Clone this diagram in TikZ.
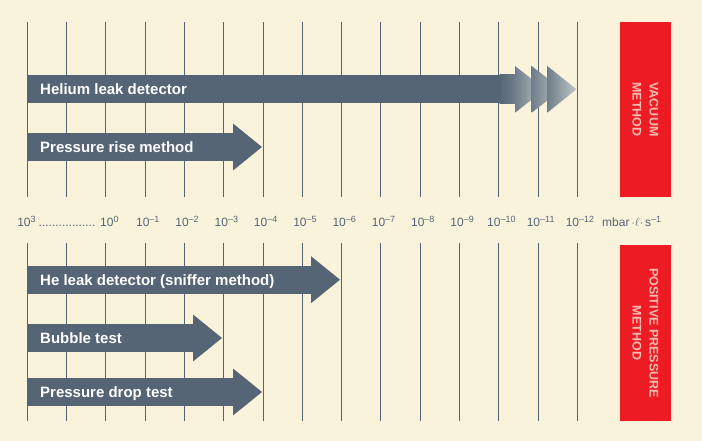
\documentclass[tikz,border=0pt]{standalone}
\usepackage{fontspec}
\setmainfont{Liberation Sans}
\usetikzlibrary{shadings}
\definecolor{bg}{RGB}{250,243,220}
\definecolor{slate}{RGB}{86,101,117}
\definecolor{slatelight}{RGB}{190,199,198}
\definecolor{slatemid}{RGB}{112,126,139}
\definecolor{redbox}{RGB}{237,28,36}
\definecolor{pinktext}{RGB}{251,188,178}
\tikzset{
  gridline/.style={draw=slate, line width=0.9pt},
  bartext/.style={text=white, font=\fontsize{15}{18}\selectfont\bfseries, anchor=base west, inner sep=0pt},
  axislabel/.style={text=slate, font=\fontsize{12}{14}\selectfont, anchor=base, inner sep=0pt},
  redpanel/.style={fill=redbox},
  paneltext/.style={text=pinktext, font=\fontsize{12.5}{17}\selectfont\bfseries, rotate=-90, align=center, inner sep=0pt},
  headshade/.style={left color=slatemid, right color=slatelight}
}
\newcommand{\expo}[1]{\raisebox{3.7pt}{\fontsize{9}{9}\selectfont #1}}
\newcommand{\plainarrow}[4]{% name, center y, tip x, text
  \fill[slate] (27,#2-14) rectangle (#3-29,#2+14);
  \fill[slate] (#3-29,#2-23.5) -- (#3,#2) -- (#3-29,#2+23.5) -- cycle;
  \node[bartext] (#1) at (40,#2+5.6) {#4};
}
\begin{document}
\begin{tikzpicture}[x=1pt,y=-1pt]
\useasboundingbox (0,0) rectangle (702,441);
\fill[bg] (0,0) rectangle (702,441);
% grid
\foreach \k in {0,...,14} {
  \draw[gridline] ({27.3+39.29*\k},22) -- ({27.3+39.29*\k},197);
  \draw[gridline] ({27.3+39.29*\k},243) -- ({27.3+39.29*\k},421);
}
% red panels
\fill[redpanel] (620,22) rectangle (671,197);
\fill[redpanel] (620,245) rectangle (671,421);
\node[paneltext] (vac) at (645.5,109.5) {VACUUM\\METHOD};
\node[paneltext] (pos) at (645.5,333) {POSITIVE PRESSURE\\METHOD};
% helium leak detector with fading heads
\fill[slate] (27,75) rectangle (500,103.5);
\shade[left color=slate, right color=slatemid] (499.5,75) rectangle (516,103.5);
\shade[headshade] (515,66) -- (545,89.3) -- (515,112.7) -- cycle;
\shade[headshade] (531.7,66) -- (561.7,89.3) -- (531.7,112.7) -- cycle;
\shade[headshade] (547.3,66) -- (576.5,89.3) -- (547.3,112.7) -- cycle;
\node[bartext] (hld) at (40,94.9) {Helium leak detector};
% other arrows
\plainarrow{prm}{147}{262}{Pressure rise method}
\plainarrow{sniff}{279.7}{340}{He leak detector (sniffer method)}
\plainarrow{bub}{338}{222}{Bubble test}
\plainarrow{pdt}{392}{262}{Pressure drop test}
% axis labels
\node[axislabel] (l3) at (26.5,226) {10\expo{3}};
\node[axislabel, anchor=base west] (dots) at (38.5,226) {.................};
\node[axislabel, anchor=base west] (l0) at (100,226) {10\expo{0}};
\foreach \k/\e in {3/1,4/2,5/3,6/4,7/5,8/6,9/7,10/8,11/9,12/10,13/11,14/12} {
  \node[axislabel] (l\k) at ({27.3+39.29*\k+2.6},226) {10\expo{--\e}};
}
\node[axislabel, anchor=base west] (unit) at (602,226) {mbar\,$\cdot\ell\cdot$\,s\expo{--1}};
\end{tikzpicture}
\end{document}
